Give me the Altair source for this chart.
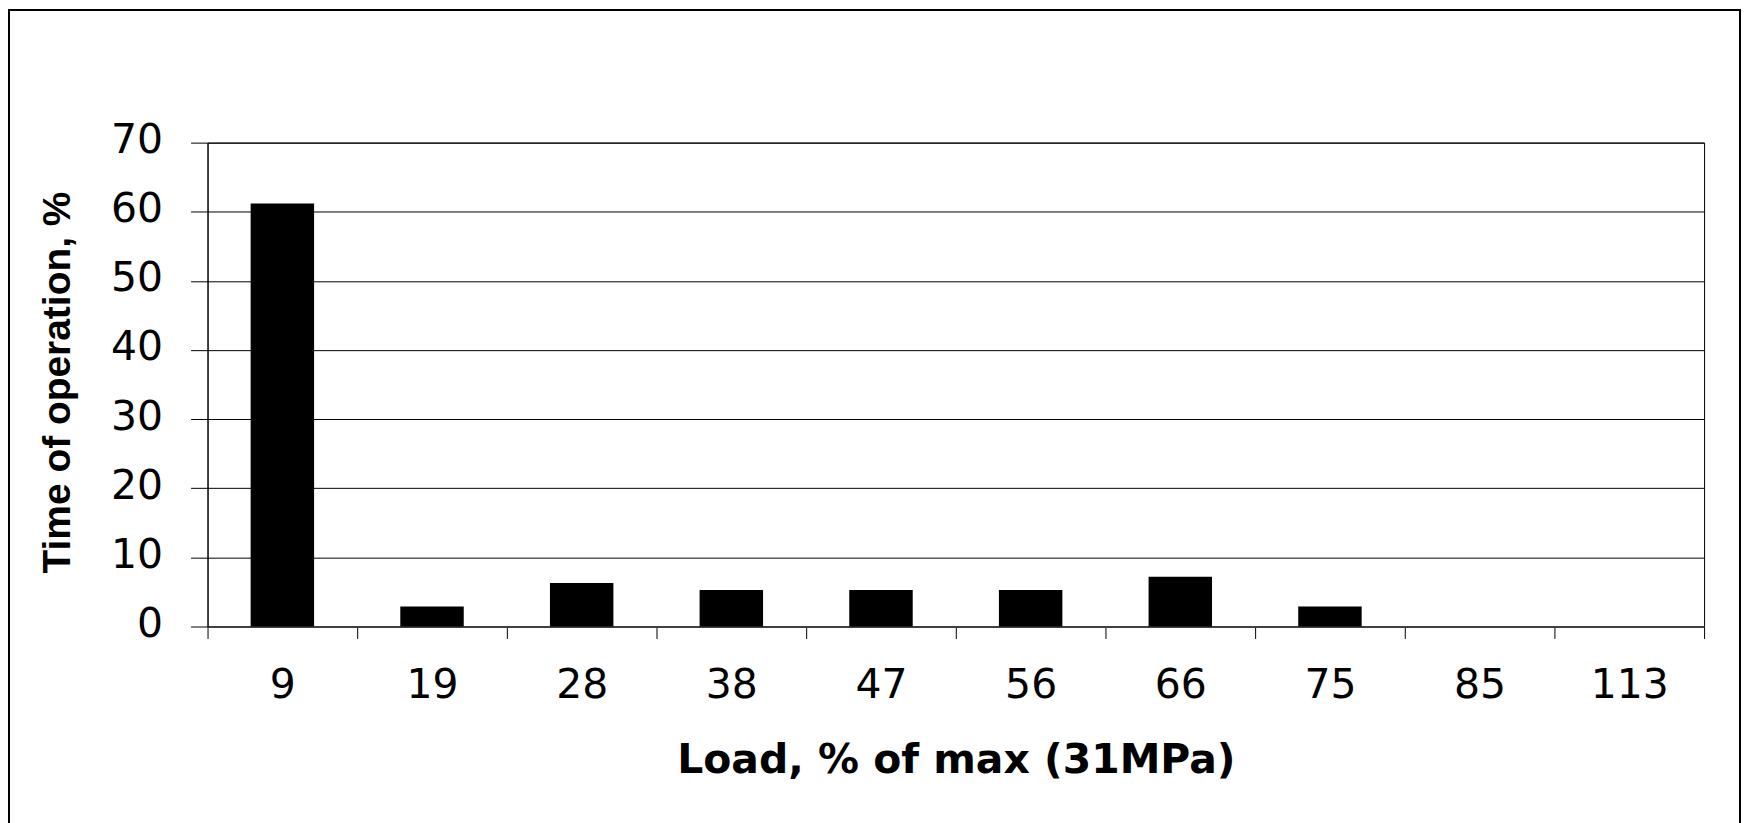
import altair as alt
import pandas as pd

categories = ["9", "19", "28", "38", "47", "56", "66", "75", "85", "113"]
time_pct = [61.2, 2.9, 6.3, 5.3, 5.3, 5.3, 7.2, 2.9, 0, 0]
y_ticks = [0, 10, 20, 30, 40, 50, 60, 70]

df = pd.DataFrame({"load": categories, "time": time_pct})

bars = alt.Chart(df).mark_bar(
    color="black", width=alt.RelativeBandSize(0.424)
).encode(
    x=alt.X(
        "load:N",
        sort=categories,
        scale=alt.Scale(paddingInner=0, paddingOuter=0),
        axis=alt.Axis(
            title="Load, % of max (31MPa)",
            labelAngle=0,
            labelFont="DejaVu Sans",
            labelFontSize=41,
            labelColor="black",
            labelPadding=27,
            labelBaseline="top",
            tickBand="extent",
            tickSize=12,
            tickColor="black",
            tickWidth=1,
            domainColor="#404040",
            domainWidth=2,
            grid=False,
            titleFont="DejaVu Sans",
            titleFontSize=41,
            titleFontWeight="bold",
            titleColor="black",
            titleY=146,
            titleAlign="center",
            titleBaseline="alphabetic",
        ),
    ),
    y=alt.Y(
        "time:Q",
        scale=alt.Scale(domain=[0, 70], nice=False),
        axis=alt.Axis(
            title="Time of operation, %",
            values=y_ticks,
            labelFont="DejaVu Sans",
            labelFontSize=41,
            labelColor="black",
            labelPadding=28,
            labelBaseline="middle",
            labelOffset=-2,
            tickSize=17,
            tickColor="black",
            tickWidth=1,
            domainColor="black",
            domainWidth=1,
            grid=True,
            gridColor="black",
            gridWidth=1,
            gridOpacity=1,
            titleFont="Liberation Sans",
            titleFontSize=39,
            titleFontWeight="bold",
            titleColor="black",
            titleX=-138,
            titleY=240,
            titleAlign="center",
            titleBaseline="alphabetic",
            titleAngle=270,
        ),
    ),
)

frame = alt.Chart(alt.Data(values=[{}])).mark_rect(
    fill=None, stroke="black", strokeWidth=2
).encode(
    x=alt.value(-199),
    x2=alt.value(1536),
    y=alt.value(-133),
    y2=alt.value(700),
)

chart = alt.layer(bars, frame).properties(
    width=1500,
    height=485,
    autosize=alt.AutoSizeParams(type="none"),
    padding={"left": 200, "top": 134, "right": 37, "bottom": 196},
    background="white",
).configure_view(
    stroke="black", strokeWidth=1
)

chart.save("out.html", embed_options={"renderer": "svg", "actions": False})
